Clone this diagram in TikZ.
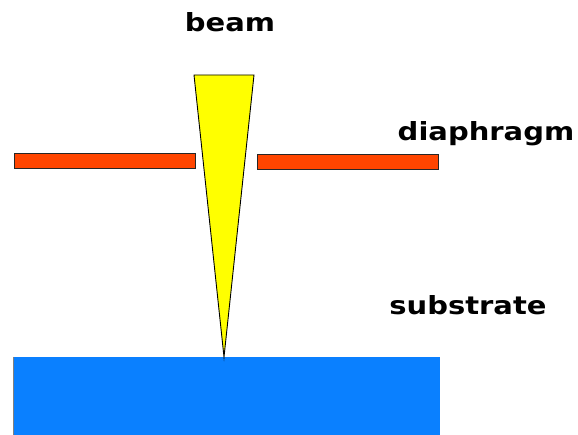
\documentclass[tikz,border=0pt]{standalone}
\usepackage{fontspec}
\setmainfont{DejaVu Sans}
\begin{document}
\begin{tikzpicture}[x=1pt,y=-1pt,
  lbl/.style={font=\bfseries\fontsize{25}{28}\selectfont, inner sep=0pt, xscale=1.16},
  bar/.style={draw=black!85, line width=1.4pt, fill=diaorange},
]
\definecolor{diaorange}{HTML}{FF4500}
\definecolor{beamyellow}{HTML}{FFFF00}
\definecolor{subblue}{HTML}{0A80FF}
\useasboundingbox (0,0) rectangle (578,435);
% substrate
\fill[subblue] (13,357) rectangle (440,435);
\draw[gray, line width=1pt] (13.5,357) -- (13.5,435);
% beam
\coordinate (tip) at (224,357);
\filldraw[fill=beamyellow, draw=black, line width=0.9pt] (194,75) -- (254,75) -- (tip) -- cycle;
% diaphragm
\node[bar, minimum width=181pt, minimum height=15pt, inner sep=0pt, anchor=north west] (dl) at (14,153) {};
\node[bar, minimum width=181pt, minimum height=15pt, inner sep=0pt, anchor=north west] (dr) at (257,154) {};
% labels
\node[lbl] (beam) at (230,22) {beam};
\node[lbl] (dia) at (486,134) {diaphragm};
\node[lbl] (sub) at (468,305) {substrate};
\end{tikzpicture}
\end{document}
